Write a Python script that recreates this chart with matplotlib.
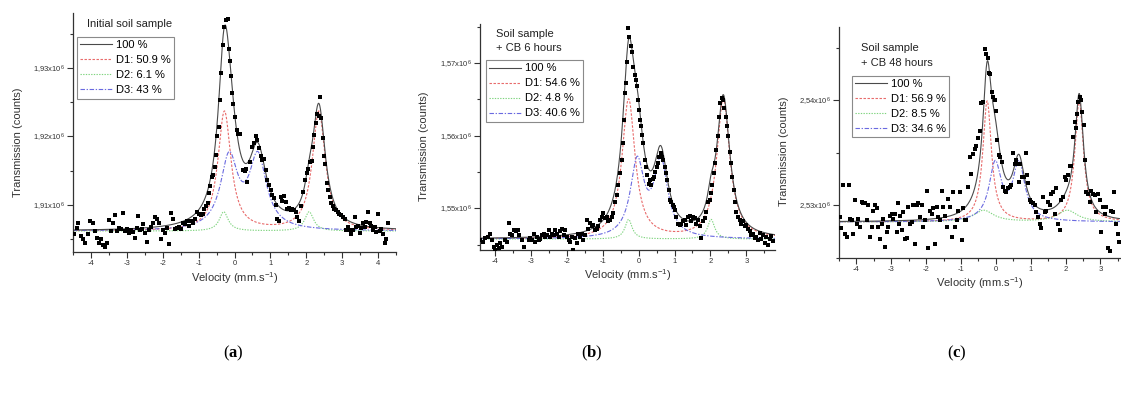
import matplotlib
matplotlib.use('Agg')
import matplotlib.pyplot as plt
import numpy as np
from matplotlib.ticker import MultipleLocator, FuncFormatter

plt.rcParams['font.family'] = ['Liberation Sans', 'DejaVu Sans']
plt.rcParams['axes.unicode_minus'] = False
plt.rcParams['mathtext.fontset'] = 'custom'
plt.rcParams['mathtext.rm'] = 'Liberation Sans'
plt.rcParams['mathtext.it'] = 'Liberation Sans:italic'
plt.rcParams['mathtext.bf'] = 'Liberation Serif:bold'

# ---- (a) initial soil sample: velocity (mm/s) and counts (x10^6)
vel_a = [-4.475, -4.400, -4.354, -4.279, -4.214, -4.158, -4.093, -4.019, -3.954, -3.879,
         -3.824, -3.768, -3.712, -3.675, -3.619, -3.563, -3.507, -3.452, -3.396, -3.340,
         -3.284, -3.228, -3.172, -3.117, -3.061, -3.005, -2.949, -2.893, -2.838, -2.782,
         -2.726, -2.689, -2.633, -2.577, -2.540, -2.484, -2.428, -2.372, -2.317, -2.261,
         -2.205, -2.149, -2.112, -2.056, -2.000, -1.945, -1.889, -1.833, -1.777, -1.721,
         -1.665, -1.610, -1.554, -1.498, -1.442, -1.386, -1.331, -1.275, -1.219, -1.163,
         -1.107, -1.052, -0.996, -0.940, -0.884, -0.838, -0.791, -0.744, -0.707, -0.670,
         -0.633, -0.596, -0.549, -0.512, -0.475, -0.438, -0.400, -0.363, -0.326, -0.289,
         -0.233, -0.186, -0.158, -0.121, -0.093, -0.056, -0.028, 0.000, 0.056, 0.093,
         0.149, 0.233, 0.279, 0.326, 0.354, 0.419, 0.484, 0.540, 0.586, 0.623,
         0.670, 0.726, 0.772, 0.819, 0.865, 0.912, 0.958, 1.005, 1.051, 1.098,
         1.144, 1.191, 1.237, 1.284, 1.330, 1.377, 1.423, 1.470, 1.516, 1.563,
         1.609, 1.656, 1.702, 1.749, 1.786, 1.861, 1.916, 1.963, 2.009, 2.056,
         2.102, 2.149, 2.186, 2.223, 2.261, 2.298, 2.344, 2.382, 2.419, 2.456,
         2.493, 2.530, 2.568, 2.614, 2.661, 2.698, 2.735, 2.781, 2.828, 2.874,
         2.921, 2.967, 3.014, 3.070, 3.116, 3.163, 3.209, 3.256, 3.302, 3.349,
         3.395, 3.442, 3.488, 3.535, 3.581, 3.628, 3.674, 3.721, 3.767, 3.814,
         3.860, 3.907, 3.953, 4.000, 4.047, 4.093, 4.140, 4.186, 4.233, 4.279]
cnt_a = [1.9058, 1.9067, 1.9074, 1.9055, 1.9050, 1.9045, 1.9058, 1.9077, 1.9073, 1.9062,
         1.9052, 1.9044, 1.9050, 1.9042, 1.9038, 1.9045, 1.9078, 1.9062, 1.9073, 1.9086,
         1.9062, 1.9067, 1.9065, 1.9089, 1.9062, 1.9065, 1.9059, 1.9063, 1.9061, 1.9052,
         1.9066, 1.9084, 1.9063, 1.9065, 1.9072, 1.9059, 1.9046, 1.9063, 1.9068, 1.9074,
         1.9083, 1.9079, 1.9074, 1.9051, 1.9063, 1.9059, 1.9067, 1.9043, 1.9088, 1.9080,
         1.9065, 1.9066, 1.9068, 1.9065, 1.9073, 1.9072, 1.9076, 1.9070, 1.9077, 1.9073,
         1.9079, 1.9090, 1.9087, 1.9085, 1.9087, 1.9094, 1.9098, 1.9103, 1.9118, 1.9128,
         1.9141, 1.9144, 1.9156, 1.9173, 1.9200, 1.9214, 1.9253, 1.9292, 1.9333, 1.9359,
         1.9370, 1.9371, 1.9327, 1.9310, 1.9288, 1.9263, 1.9247, 1.9229, 1.9209, 1.9204,
         1.9204, 1.9151, 1.9149, 1.9152, 1.9134, 1.9163, 1.9185, 1.9191, 1.9201, 1.9195,
         1.9183, 1.9171, 1.9166, 1.9167, 1.9151, 1.9137, 1.9129, 1.9122, 1.9115, 1.9110,
         1.9100, 1.9080, 1.9077, 1.9112, 1.9106, 1.9113, 1.9105, 1.9094, 1.9095, 1.9093,
         1.9094, 1.9092, 1.9090, 1.9083, 1.9077, 1.9098, 1.9119, 1.9136, 1.9146, 1.9152,
         1.9162, 1.9164, 1.9185, 1.9202, 1.9220, 1.9233, 1.9230, 1.9257, 1.9227, 1.9197,
         1.9171, 1.9160, 1.9132, 1.9122, 1.9112, 1.9103, 1.9098, 1.9094, 1.9093, 1.9090,
         1.9087, 1.9085, 1.9083, 1.9079, 1.9063, 1.9068, 1.9064, 1.9058, 1.9063, 1.9082,
         1.9068, 1.9069, 1.9059, 1.9066, 1.9073, 1.9068, 1.9075, 1.9090, 1.9073, 1.9069,
         1.9063, 1.9068, 1.9061, 1.9087, 1.9062, 1.9065, 1.9058, 1.9044, 1.9050, 1.9073]

# ---- (b) soil sample + CB 6 hours
vel_b = [-4.408, -4.343, -4.269, -4.195, -4.130, -4.084, -4.038, -3.991, -3.945, -3.899,
         -3.853, -3.806, -3.732, -3.667, -3.621, -3.575, -3.528, -3.482, -3.417, -3.371,
         -3.325, -3.251, -3.204, -3.158, -3.112, -3.066, -3.019, -2.973, -2.927, -2.880,
         -2.834, -2.788, -2.741, -2.695, -2.649, -2.603, -2.556, -2.510, -2.464, -2.417,
         -2.371, -2.325, -2.279, -2.232, -2.186, -2.140, -2.093, -2.047, -2.001, -1.954,
         -1.908, -1.862, -1.816, -1.769, -1.723, -1.677, -1.630, -1.584, -1.538, -1.491,
         -1.445, -1.399, -1.353, -1.306, -1.260, -1.214, -1.167, -1.121, -1.075, -1.029,
         -0.982, -0.936, -0.890, -0.843, -0.797, -0.751, -0.704, -0.658, -0.612, -0.566,
         -0.519, -0.473, -0.436, -0.408, -0.380, -0.352, -0.315, -0.288, -0.260, -0.223,
         -0.186, -0.149, -0.112, -0.084, -0.056, -0.028, 0.009, 0.037, 0.064, 0.092,
         0.129, 0.166, 0.203, 0.240, 0.277, 0.314, 0.351, 0.388, 0.425, 0.462,
         0.500, 0.537, 0.574, 0.611, 0.648, 0.685, 0.722, 0.759, 0.796, 0.833,
         0.870, 0.907, 0.944, 0.981, 1.018, 1.055, 1.101, 1.148, 1.194, 1.240,
         1.287, 1.333, 1.379, 1.425, 1.472, 1.518, 1.564, 1.611, 1.657, 1.703,
         1.750, 1.796, 1.842, 1.888, 1.935, 1.981, 2.018, 2.055, 2.092, 2.129,
         2.166, 2.203, 2.240, 2.277, 2.314, 2.351, 2.388, 2.425, 2.462, 2.500,
         2.537, 2.574, 2.611, 2.648, 2.685, 2.722, 2.768, 2.814, 2.861, 2.907,
         2.953, 3.000, 3.046, 3.092, 3.138, 3.185, 3.231, 3.277, 3.324, 3.370,
         3.420, 3.460, 3.510, 3.560, 3.600, 3.650, 3.700, 3.740]
cnt_b = [1.5456, 1.5454, 1.5459, 1.5461, 1.5465, 1.5456, 1.5447, 1.5442, 1.5449, 1.5445,
         1.5452, 1.5447, 1.5456, 1.5454, 1.5480, 1.5465, 1.5463, 1.5470, 1.5468, 1.5470,
         1.5463, 1.5456, 1.5447, 1.5438, 1.5436, 1.5456, 1.5459, 1.5456, 1.5465, 1.5454,
         1.5461, 1.5456, 1.5457, 1.5463, 1.5465, 1.5460, 1.5463, 1.5470, 1.5461, 1.5465,
         1.5463, 1.5470, 1.5465, 1.5461, 1.5468, 1.5472, 1.5463, 1.5470, 1.5461, 1.5456,
         1.5454, 1.5461, 1.5442, 1.5459, 1.5452, 1.5465, 1.5461, 1.5465, 1.5456, 1.5463,
         1.5484, 1.5472, 1.5480, 1.5475, 1.5477, 1.5470, 1.5472, 1.5475, 1.5484, 1.5488,
         1.5493, 1.5486, 1.5488, 1.5482, 1.5484, 1.5488, 1.5493, 1.5509, 1.5518, 1.5532,
         1.5548, 1.5566, 1.5590, 1.5622, 1.5659, 1.5672, 1.5702, 1.5748, 1.5736, 1.5723,
         1.5716, 1.5695, 1.5684, 1.5677, 1.5668, 1.5649, 1.5636, 1.5622, 1.5613, 1.5601,
         1.5590, 1.5567, 1.5557, 1.5546, 1.5534, 1.5539, 1.5532, 1.5541, 1.5543, 1.5550,
         1.5557, 1.5562, 1.5571, 1.5576, 1.5571, 1.5567, 1.5557, 1.5548, 1.5539, 1.5525,
         1.5511, 1.5509, 1.5504, 1.5502, 1.5497, 1.5488, 1.5479, 1.5477, 1.5478, 1.5482,
         1.5484, 1.5477, 1.5488, 1.5489, 1.5482, 1.5488, 1.5486, 1.5479, 1.5484, 1.5475,
         1.5459, 1.5482, 1.5486, 1.5495, 1.5509, 1.5511, 1.5521, 1.5532, 1.5548, 1.5563,
         1.5580, 1.5600, 1.5626, 1.5645, 1.5652, 1.5649, 1.5638, 1.5626, 1.5613, 1.5599,
         1.5578, 1.5562, 1.5543, 1.5525, 1.5509, 1.5495, 1.5488, 1.5484, 1.5479, 1.5482,
         1.5475, 1.5477, 1.5472, 1.5468, 1.5463, 1.5465, 1.5459, 1.5461, 1.5456, 1.5466,
         1.5458, 1.5463, 1.5452, 1.5460, 1.5449, 1.5457, 1.5462, 1.5455]

# ---- (c) soil sample + CB 48 hours
vel_c = [-4.467, -4.438, -4.372, -4.324, -4.276, -4.209, -4.181, -4.133, -4.085, -4.038,
         -3.990, -3.942, -3.895, -3.847, -3.799, -3.752, -3.704, -3.656, -3.609, -3.561,
         -3.513, -3.466, -3.418, -3.370, -3.322, -3.275, -3.227, -3.179, -3.132, -3.084,
         -3.036, -2.989, -2.941, -2.893, -2.846, -2.817, -2.779, -2.741, -2.703, -2.655,
         -2.607, -2.560, -2.512, -2.464, -2.416, -2.369, -2.321, -2.273, -2.226, -2.178,
         -2.130, -2.083, -2.035, -1.987, -1.940, -1.892, -1.844, -1.796, -1.749, -1.701,
         -1.653, -1.606, -1.558, -1.510, -1.463, -1.415, -1.367, -1.320, -1.272, -1.224,
         -1.177, -1.129, -1.081, -1.034, -0.986, -0.938, -0.890, -0.843, -0.795, -0.747,
         -0.700, -0.652, -0.604, -0.557, -0.509, -0.461, -0.413, -0.366, -0.318, -0.270,
         -0.223, -0.194, -0.156, -0.118, -0.080, -0.032, -0.003, 0.044, 0.092, 0.130,
         0.168, 0.207, 0.254, 0.302, 0.350, 0.397, 0.445, 0.493, 0.540, 0.588,
         0.636, 0.664, 0.703, 0.750, 0.798, 0.855, 0.893, 0.931, 0.970, 1.017,
         1.065, 1.113, 1.160, 1.208, 1.256, 1.303, 1.351, 1.399, 1.447, 1.494,
         1.542, 1.590, 1.637, 1.685, 1.733, 1.780, 1.828, 1.876, 1.923, 1.971,
         2.019, 2.066, 2.114, 2.162, 2.210, 2.257, 2.286, 2.324, 2.362, 2.400,
         2.438, 2.477, 2.515, 2.553, 2.591, 2.639, 2.686, 2.734, 2.782, 2.829,
         2.877, 2.925, 2.972, 3.020, 3.068, 3.116, 3.163, 3.211, 3.259, 3.306,
         3.354, 3.402, 3.449, 3.497, 3.545]
cnt_c = [2.5289, 2.5278, 2.5319, 2.5273, 2.5270, 2.5319, 2.5287, 2.5286, 2.5273, 2.5305,
         2.5282, 2.5287, 2.5279, 2.5303, 2.5302, 2.5302, 2.5286, 2.5300, 2.5270, 2.5279,
         2.5295, 2.5300, 2.5297, 2.5279, 2.5268, 2.5282, 2.5287, 2.5260, 2.5275, 2.5279,
         2.5290, 2.5292, 2.5287, 2.5292, 2.5275, 2.5302, 2.5282, 2.5290, 2.5276, 2.5294,
         2.5268, 2.5269, 2.5298, 2.5282, 2.5284, 2.5300, 2.5263, 2.5300, 2.5302, 2.5289,
         2.5300, 2.5279, 2.5286, 2.5314, 2.5259, 2.5295, 2.5292, 2.5297, 2.5263, 2.5298,
         2.5289, 2.5286, 2.5314, 2.5298, 2.5290, 2.5279, 2.5306, 2.5298, 2.5270, 2.5313,
         2.5279, 2.5286, 2.5295, 2.5313, 2.5267, 2.5297, 2.5286, 2.5286, 2.5317, 2.5346,
         2.5330, 2.5349, 2.5354, 2.5356, 2.5364, 2.5371, 2.5397, 2.5398, 2.5449, 2.5444,
         2.5440, 2.5426, 2.5425, 2.5408, 2.5403, 2.5400, 2.5390, 2.5362, 2.5348, 2.5346,
         2.5341, 2.5317, 2.5314, 2.5313, 2.5316, 2.5317, 2.5319, 2.5350, 2.5339, 2.5343,
         2.5339, 2.5322, 2.5339, 2.5327, 2.5327, 2.5350, 2.5329, 2.5321, 2.5305, 2.5303,
         2.5302, 2.5300, 2.5294, 2.5289, 2.5282, 2.5278, 2.5308, 2.5294, 2.5295, 2.5303,
         2.5300, 2.5311, 2.5313, 2.5292, 2.5316, 2.5282, 2.5276, 2.5305, 2.5308, 2.5327,
         2.5324, 2.5329, 2.5337, 2.5337, 2.5365, 2.5379, 2.5374, 2.5387, 2.5398, 2.5403,
         2.5400, 2.5389, 2.5376, 2.5343, 2.5313, 2.5311, 2.5303, 2.5314, 2.5311, 2.5310,
         2.5294, 2.5311, 2.5305, 2.5275, 2.5298, 2.5292, 2.5298, 2.5259, 2.5256, 2.5295,
         2.5294, 2.5313, 2.5282, 2.5273, 2.5265]

# ---- fitted doublets: line positions (mm/s), half widths, heights (x10^6)
base_a = 1.9062
pos_a = [[-0.28, 2.35], [-0.30, 2.08], [-0.15, 0.65]]
hwhm_a = [0.22, 0.15, 0.29]
height_a = [0.0174, 0.0028, 0.0104]
labels_a = ['100 %', 'D1: 50.9 %', 'D2: 6.1 %', 'D3: 43 %']

base_b = 1.54576
pos_b = [[-0.28, 2.36], [-0.28, 2.02], [-0.04, 0.62]]
hwhm_b = [0.22, 0.12, 0.23]
height_b = [0.0192, 0.0027, 0.0103]
labels_b = ['100 %', 'D1: 54.6 %', 'D2: 4.8 %', 'D3: 40.6 %']

base_c = 2.52841
pos_c = [[-0.25, 2.39], [-0.35, 2.05], [-0.02, 0.66]]
hwhm_c = [0.15, 0.35, 0.21]
height_c = [0.0115, 0.0011, 0.0054]
labels_c = ['100 %', 'D1: 56.9 %', 'D2: 8.5 %', 'D3: 34.6 %']

titles = ['Initial soil sample', 'Soil sample\n+ CB 6 hours', 'Soil sample\n+ CB 48 hours']
panel_tags = ['a', 'b', 'c']

W, H = 1121, 394
fig = plt.figure(figsize=(W / 100, H / 100), dpi=100)


def px_rect(left, top, right, bottom):
    return [left / W, 1 - bottom / H, (right - left) / W, (bottom - top) / H]


def lorentz(v, centre, hwhm, height):
    return height / (1 + ((v - centre) / hwhm) ** 2)


def ylabel_fmt(v, pos):
    return f'{v:.2f}'.replace('.', ',') + r'x10$^6$'


comp_styles = [dict(color='#e86a6a', ls=(0, (2.2, 1.4))),
               dict(color='#7fd47f', ls=(0, (1.2, 1.2))),
               dict(color='#6a6ae0', ls=(0, (4, 1.5, 1.2, 1.5)))]

panels = [
    dict(rect=px_rect(73, 13, 396, 252), xlim=(-4.5, 4.5), ylim=(1.90314, 1.93800),
         vel=vel_a, cnt=cnt_a, base=base_a, pos=pos_a, hwhm=hwhm_a, height=height_a,
         labels=labels_a, leg=(0.012, 0.90), title_xy=(0.043, 0.975),
         ylab_x=-0.155, tag_x=233),
    dict(rect=px_rect(480, 24, 775, 250), xlim=(-4.42, 3.8), ylim=(1.54425, 1.5754),
         vel=vel_b, cnt=cnt_b, base=base_b, pos=pos_b, hwhm=hwhm_b, height=height_b,
         labels=labels_b, leg=(0.02, 0.84), title_xy=(0.054, 0.98),
         ylab_x=-0.174, tag_x=592),
    dict(rect=px_rect(839, 27, 1120, 258), xlim=(-4.5, 3.56), ylim=(2.52498, 2.54698),
         vel=vel_c, cnt=cnt_c, base=base_c, pos=pos_c, hwhm=hwhm_c, height=height_c,
         labels=labels_c, leg=(0.046, 0.79), title_xy=(0.078, 0.93),
         ylab_x=-0.178, tag_x=957),
]

for i, p in enumerate(panels):
    ax = fig.add_axes(p['rect'])
    v = np.linspace(p['xlim'][0], p['xlim'][1], 900)
    total = np.full_like(v, p['base'])
    comp_lines = []
    for lines, w, h, st in zip(p['pos'], p['hwhm'], p['height'], comp_styles):
        comp = sum(lorentz(v, c, w, h) for c in lines)
        total += comp
        ln, = ax.plot(v, p['base'] + comp, lw=0.8, zorder=2, **st)
        comp_lines.append(ln)
    tot_line, = ax.plot(v, total, color='#4a4a4a', lw=0.8, zorder=2.5)
    ax.plot(p['vel'], p['cnt'], 's', ms=2.6, color='black', mec='black', mew=0, zorder=3)

    ax.set_xlim(*p['xlim'])
    ax.set_ylim(*p['ylim'])
    for s in ['top', 'right']:
        ax.spines[s].set_visible(False)
    for s in ['left', 'bottom']:
        ax.spines[s].set_linewidth(0.9)
        ax.spines[s].set_color('#333333')
    ax.xaxis.set_major_locator(MultipleLocator(1))
    ax.xaxis.set_minor_locator(MultipleLocator(0.5))
    ax.yaxis.set_major_locator(MultipleLocator(0.01))
    ax.yaxis.set_minor_locator(MultipleLocator(0.005))
    ax.yaxis.set_major_formatter(FuncFormatter(ylabel_fmt))
    ax.tick_params(which='major', direction='out', length=4, width=0.8,
                   labelsize=5.5, pad=2, color='#333333', labelcolor='#333333')
    ax.tick_params(which='minor', direction='out', length=2.5, width=0.8, color='#333333')

    ax.set_xlabel('Velocity (mm.s$^{-1}$)', fontsize=8, color='#333333')
    ax.xaxis.set_label_coords(0.5, -0.075)
    ax.set_ylabel('Transmission (counts)', fontsize=8, color='#333333')
    ax.yaxis.set_label_coords(p['ylab_x'], 0.46)

    ax.text(p['title_xy'][0], p['title_xy'][1], titles[i], transform=ax.transAxes,
            fontsize=8, va='top', ha='left', color='#222222', linespacing=1.55)
    leg = ax.legend([tot_line] + comp_lines, p['labels'], loc='upper left',
                    bbox_to_anchor=p['leg'], fontsize=8, frameon=True, fancybox=False,
                    edgecolor='#8a8a8a', framealpha=1, handlelength=2.9,
                    handletextpad=0.3, borderpad=0.3, labelspacing=0.45, borderaxespad=0)
    leg.get_frame().set_linewidth(0.8)

    fig.text(p['tag_x'] / W, 1 - 353 / H, r'($\mathbf{%s}$)' % panel_tags[i],
             fontsize=12, family='Liberation Serif', ha='center', va='center')

fig.savefig('out.png', dpi=100)
